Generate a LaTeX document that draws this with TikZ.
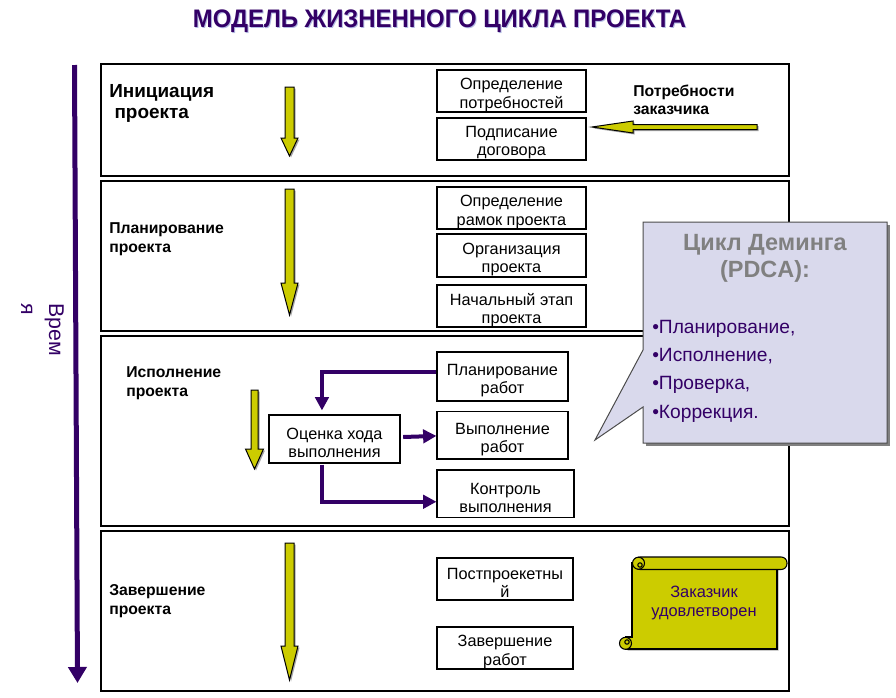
\documentclass[tikz,border=0pt]{standalone}
\usepackage{fontspec}
\setmainfont{Liberation Sans}
\usetikzlibrary{arrows.meta,calc}
\definecolor{deep}{HTML}{330066}
\definecolor{yel}{HTML}{CCCC00}
\definecolor{lav}{HTML}{D9D9EC}
\definecolor{ttlgray}{HTML}{808080}
\definecolor{shadowblue}{HTML}{B4BCE4}
\newcommand\yarrdown[6]{%
  \begin{scope}[shift={(1.5,1.5)}]
  \fill[black!35] ({#1-#5},#2) -- ({#1+#5},#2) -- ({#1+#5},#3) -- ({#1+#6},#3) -- (#1,#4) -- ({#1-#6},#3) -- ({#1-#5},#3) -- cycle;
  \end{scope}
  \draw[yarr] ({#1-#5},#2) -- ({#1+#5},#2) -- ({#1+#5},#3) -- ({#1+#6},#3) -- (#1,#4) -- ({#1-#6},#3) -- ({#1-#5},#3) -- cycle;
}
% name, x, y, width, height, text
\newcommand\bx[6]{%
  \node[box, minimum width=#4, minimum height=#5] (#1) at (#2,#3) {};
  \node[boxtext] (#1-t) at ([yshift=-3pt]#1.center) {#6};
}
\tikzset{
  yarr/.style={fill=yel, draw=black, line width=0.75pt, line join=miter},
  phasebox/.style={draw=black, line width=0.9pt},
  box/.style={draw=black, line width=0.8pt, fill=white, inner sep=0pt},
  boxtext/.style={inner sep=0pt, align=center, font=\fontsize{12.2}{13.6}\selectfont},
  phaselbl/.style={anchor=north west, inner sep=0pt, align=left,
    font=\fontsize{11.8}{14.6}\selectfont\bfseries},
  conn/.style={draw=deep, line width=3pt, -{Triangle[length=10pt,width=10pt]}},
  bullet/.style={anchor=base west, inner sep=0pt, text=deep, font=\fontsize{14.4}{16}\selectfont},
}
\begin{document}
\begin{tikzpicture}[x=0.75pt,y=-0.75pt]
\useasboundingbox (0,0) rectangle (896,697);
\fill[white] (0,0) rectangle (896,697);

% title
\node[anchor=base, inner sep=0pt, text=shadowblue] at (440.5,28)
  {\resizebox{370pt}{\height}{\fontsize{19}{22}\selectfont\bfseries МОДЕЛЬ ЖИЗНЕННОГО ЦИКЛА ПРОЕКТА}};
\node[anchor=base, inner sep=0pt, text=deep] (title) at (439.5,27)
  {\resizebox{370pt}{\height}{\fontsize{19}{22}\selectfont\bfseries МОДЕЛЬ ЖИЗНЕННОГО ЦИКЛА ПРОЕКТА}};

% time axis
\coordinate (tA) at (74.5,65);
\coordinate (tB) at (77.5,683);
\draw[draw=deep, line width=3.75pt, -{Triangle[length=12pt,width=13.5pt]}] (tA) -- (tB);
\node[rotate=-90, anchor=north west, inner sep=0pt, align=left, text=deep,
  font=\fontsize{16}{21}\selectfont] (time) at (64,303) {Врем\\я};

% phase boxes
\draw[phasebox] (101,64) rectangle (789,176);
\draw[phasebox] (101,181) rectangle (789,331);
\draw[phasebox] (101,336) rectangle (789,526);
\draw[phasebox] (101,531) rectangle (789,691);

% phase labels
\node[phaselbl, font=\fontsize{14.2}{15.75}\selectfont\bfseries] (p1) at (109,84) {Инициация\\ \ проекта};
\node[phaselbl] (p2) at (109,222) {Планирование\\проекта};
\node[phaselbl] (p3) at (126,366) {Исполнение\\проекта};
\node[phaselbl] (p4) at (109,584) {Завершение\\проекта};

% yellow arrows
\yarrdown{289.5}{87}{138}{156}{4.5}{8.5}
\yarrdown{289.5}{189}{283}{315}{4.5}{8.5}
\yarrdown{254.5}{390}{449}{469}{3.5}{9}
\yarrdown{289.5}{543}{646}{680}{4.5}{8.5}

% customer needs arrow
\begin{scope}[shift={(1.5,1.5)}]
\fill[black!35] (757,124.5) -- (633,124.5) -- (633,121) -- (592,127) -- (633,133) -- (633,129.5) -- (757,129.5) -- cycle;
\end{scope}
\draw[yarr] (757,124.5) -- (633,124.5) -- (633,121) -- (592,127) -- (633,133) -- (633,129.5) -- (757,129.5) -- cycle;
\node[anchor=north west, inner sep=0pt, align=left, font=\fontsize{11.8}{13.5}\selectfont\bfseries] (needs) at (633,85) {Потребности\\заказчика};

% phase 1 boxes
\bx{b11}{511.5}{91}{111.75pt}{31.5pt}{Определение\\потребностей}
\bx{b12}{511.5}{139}{111.75pt}{31.5pt}{Подписание\\договора}
% phase 2 boxes
\bx{b21}{511.5}{208}{111.75pt}{31.5pt}{Определение\\рамок проекта}
\bx{b22}{511.5}{255.5}{111.75pt}{32.25pt}{Организация\\проекта}
\bx{b23}{511.5}{306}{111.75pt}{31.5pt}{Начальный этап\\проекта}
% phase 3 boxes
\bx{plr}{502.5}{376.5}{98.25pt}{36.75pt}{Планирование\\работ}
\bx{vr}{502.5}{435.25}{98.25pt}{35.6pt}{Выполнение\\работ}
\bx{kv}{505.5}{493.75}{102.75pt}{35.6pt}{Контроль\\выполнения}
\bx{oh}{334.5}{439}{98.25pt}{36pt}{Оценка хода\\выполнения}
% phase 4 boxes
\bx{b41}{505}{579}{102pt}{31.5pt}{Постпроекетны\\й}
\bx{b42}{505}{648}{102pt}{31.5pt}{Завершение\\работ}

% purple connectors
\draw[conn] ([yshift=3.4pt]plr.west) -| ([xshift=-9.4pt,yshift=3pt]oh.north);
\draw[conn] ([xshift=2pt,yshift=1.5pt]oh.east) -- ([yshift=-0.5pt]vr.west);
\draw[conn] ([xshift=-9.4pt,yshift=-1pt]oh.south) |- ([yshift=-6pt]kv.west);

% Deming callout
\fill[black!50] (645.5,224.5) -- (889.5,224.5) -- (889.5,445.5) -- (645.5,445.5) -- cycle;
\draw[fill=lav, draw=black!70, line width=0.75pt, line join=miter]
  (643,222) -- (887,222) -- (887,443) -- (643,443) -- (643,407) -- (595,440) -- (643,350) -- cycle;
\node[anchor=north, inner sep=0pt, align=center, text=ttlgray,
  font=\fontsize{17.6}{20.5}\selectfont\bfseries] (deming) at (765,234) {Цикл Деминга\\(PDCA):};
\node[bullet] (d1) at (652,333) {•Планирование,};
\node[bullet] (d2) at (652,361.5) {•Исполнение,};
\node[bullet] (d3) at (652,389.5) {•Проверка,};
\node[bullet] (d4) at (652,418) {•Коррекция.};

% scroll
\begin{scope}[shift={(1.5,1.5)}]
\fill[black!30] (632,563) -- (777,563) -- (777,649) -- (626,649) -- (626,637) -- (632,637) -- cycle;
\end{scope}
\filldraw[fill=yel, draw=black, line width=0.8pt] (632,563) -- (777,563) -- (777,649) -- (626,649) -- (626,637) -- (632,637) -- cycle;
\filldraw[fill=yel, draw=black, line width=0.8pt, rounded corners=4.4pt] (634,557) rectangle (787,569.5);
\filldraw[fill=yel, draw=black, line width=0.8pt] (638.5,563.2) circle[radius=6];
\draw[black, line width=0.8pt] (640,565) circle[radius=2.2];
\draw[black, line width=0.8pt] (638.5,569.2) -- (777,569.2);
\filldraw[fill=yel, draw=black, line width=0.8pt] (625.5,643.3) circle[radius=6];
\draw[black, line width=0.8pt] (627,642) circle[radius=2.2];
\node[align=center, inner sep=0pt, text=deep, font=\fontsize{12.3}{13.8}\selectfont] (sat) at (704,603) {Заказчик\\удовлетворен};
\end{tikzpicture}
\end{document}
